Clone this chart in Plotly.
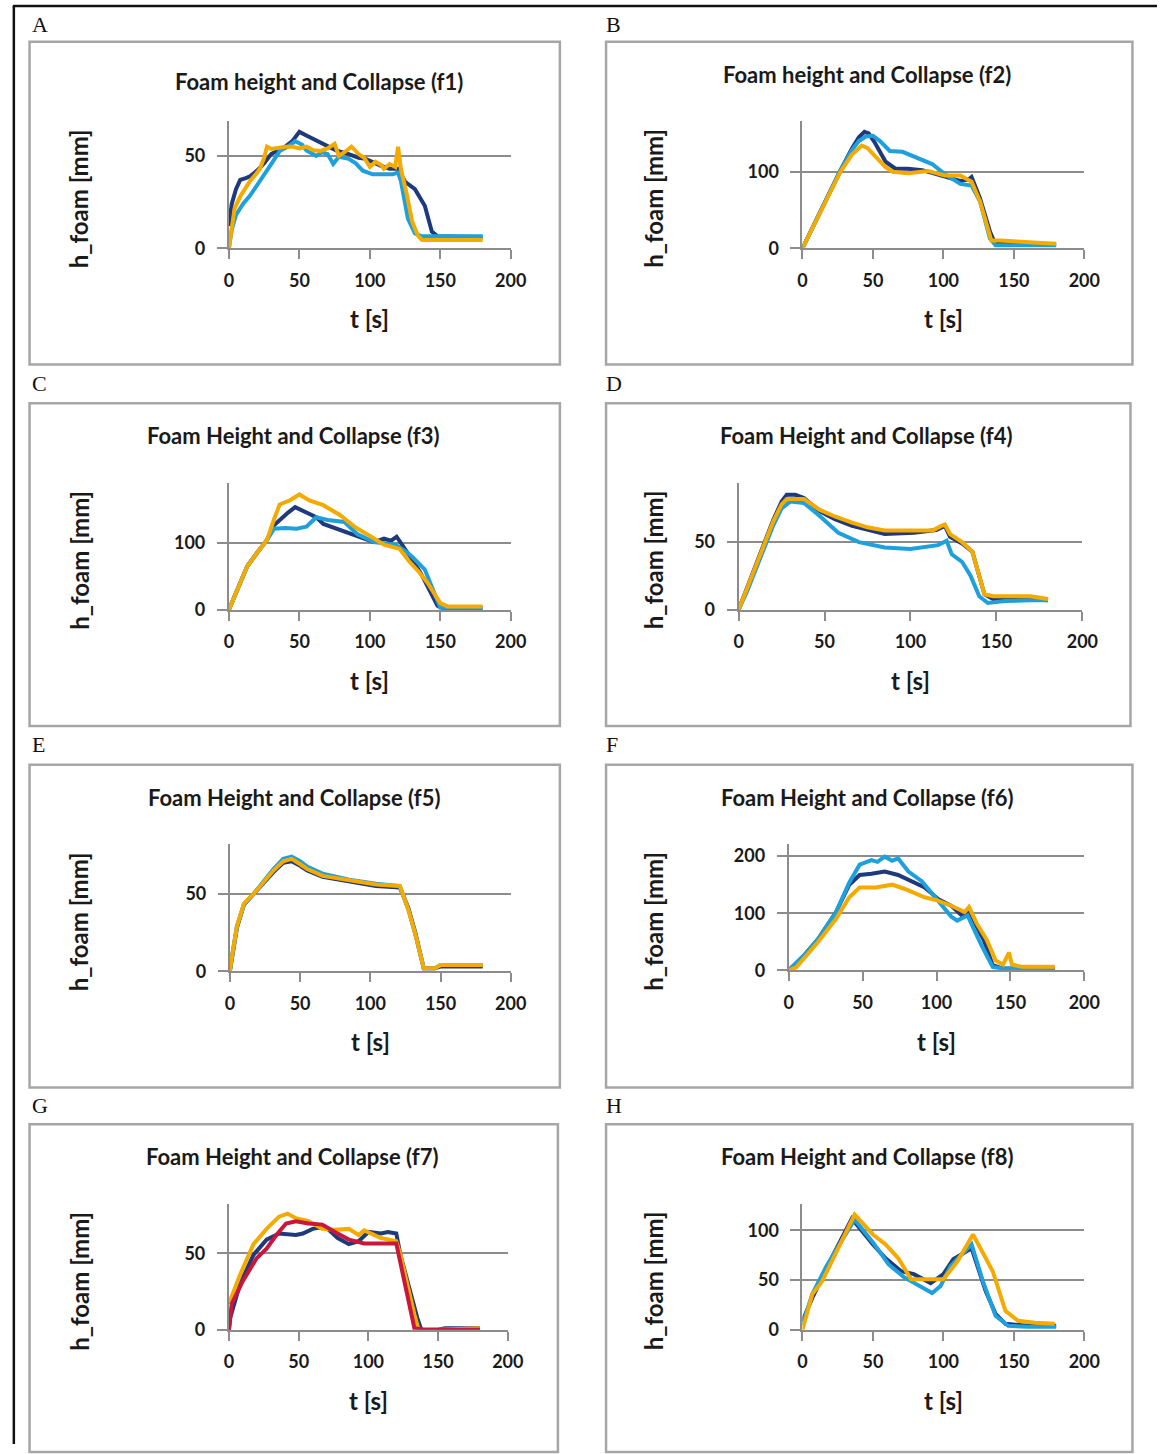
import plotly.graph_objects as go

W, H = 1173, 1454

# ---------------- data (t in s, h_foam in mm) ----------------
titles = ["Foam height and Collapse (f1)", "Foam height and Collapse (f2)",
          "Foam Height and Collapse (f3)", "Foam Height and Collapse (f4)",
          "Foam Height and Collapse (f5)", "Foam Height and Collapse (f6)",
          "Foam Height and Collapse (f7)", "Foam Height and Collapse (f8)"]
letters = ["A", "B", "C", "D", "E", "F", "G", "H"]
x_ticks = [0, 50, 100, 150, 200]

# f1
A_navy_t = [0, 2, 5, 8, 12, 15, 20, 25, 30, 35, 40, 45, 50, 55, 60, 66, 72, 76, 85, 92, 97, 103, 108, 114, 120, 125, 132, 139, 144, 148, 160, 170, 180]
A_navy_h = [12, 24, 32, 37, 38, 39, 42, 46, 51, 53, 55, 58, 63, 61, 59, 56.5, 54, 53, 51, 49, 48.4, 46, 44.6, 43, 43, 36, 32, 23, 9, 6.5, 6.5, 6, 6]
A_cyan_t = [0, 2, 5, 10, 15, 20, 23, 27, 30, 36, 42, 47, 52, 55, 62, 66, 70, 74, 78, 85, 90, 95, 102, 110, 116, 120, 122, 127, 132, 137, 150, 165, 180]
A_cyan_h = [0, 10, 18, 24, 28.5, 34, 37.6, 42, 45.6, 52.6, 55, 58, 56, 53, 50, 52, 51, 45.6, 49.5, 48.4, 46, 42, 40, 40, 40, 41, 36.5, 16, 8, 6.5, 6.5, 6.5, 6.5]
A_orng_t = [0, 2, 4, 8, 12, 15, 19, 22, 25, 27, 30, 35, 40, 45, 50, 55, 60, 65, 70, 75, 78, 82, 87, 92, 96, 100, 104, 108, 110, 114, 118, 120, 122, 126, 130, 134, 137, 150, 165, 180]
A_orng_h = [0, 12, 21.5, 28, 33, 36.5, 40, 43, 49, 55, 53.8, 54.5, 55, 55, 54, 55, 53, 52.7, 54, 56.5, 50, 52, 55, 51, 49, 44, 46.8, 45, 43, 45.6, 44, 55, 43, 30, 14.5, 7, 4.5, 4.5, 4.5, 4.5]

# f2
B_navy_t = [0, 10, 20, 26.5, 35, 40, 44, 47, 51, 55, 59, 66, 75, 85, 98, 112, 118, 120, 126, 133, 136, 145, 160, 180]
B_navy_h = [0, 38, 76, 100, 130, 145, 152, 150, 139, 125, 113, 104, 104, 102, 95, 88, 90, 93, 65, 22, 9, 6, 5, 5]
B_cyan_t = [0, 10, 20, 26.5, 35, 40, 45, 50, 55, 62, 71, 80, 92, 101, 112, 120, 126, 133, 137, 145, 160, 180]
B_cyan_h = [0, 38, 76, 100, 128, 140, 146, 147, 140, 127, 126, 119, 110, 97, 84, 82, 61, 13, 4, 4, 4, 4]
B_orng_t = [0, 10, 20, 27, 35, 42, 46, 50, 55, 59, 64, 75, 89, 101, 112, 120, 126, 134, 140, 150, 165, 180]
B_orng_h = [0, 36, 72, 100, 122, 134, 131, 123, 114, 106, 100, 98, 101, 95, 95, 87, 61, 10, 10, 9, 8, 6]

# f3
C_navy_t = [0, 5, 13, 20, 27, 32, 36, 42, 47, 52, 57, 62, 67, 79, 90, 103, 110, 115, 119, 124, 130, 136, 142, 148, 152, 165, 180]
C_navy_h = [0, 25, 65, 85, 104, 126, 134, 145, 153, 148, 143, 138, 128, 119, 112, 101, 106, 103, 109, 94, 75, 55, 30, 6, 2, 2, 2]
C_cyan_t = [0, 5, 13, 20, 27, 32, 40, 48, 55, 62, 70, 82, 91, 103, 118, 125, 130, 139, 145, 150, 165, 180]
C_cyan_h = [0, 25, 65, 85, 104, 121, 122, 121, 124, 138, 134, 131, 113, 101, 97, 88, 79, 60, 30, 3, 3, 3]
C_orng_t = [0, 5, 13, 20, 27, 32, 36, 43, 50, 57, 67, 79, 89, 101, 110, 121, 128, 135, 141, 150, 155, 165, 180]
C_orng_h = [0, 25, 65, 85, 104, 135, 157, 163, 172, 163, 156, 141, 124, 109, 97, 91, 72, 56, 40, 10, 5, 5, 5]

# f4
D_navy_t = [0, 5, 10, 15, 20, 25, 28, 33, 38, 47, 56, 66, 75, 85, 102, 115, 120, 123, 130, 136, 140, 143, 148, 160, 170, 180]
D_navy_h = [0, 16, 33, 49, 66, 80, 85, 85, 82.6, 73, 67, 62, 59, 56, 57, 59, 62, 54, 49, 43, 25, 11.5, 8, 8, 8, 7]
D_cyan_t = [0, 5, 10, 15, 20, 25, 30, 38, 47, 58, 70, 85, 100, 116, 121, 124, 130, 135, 140, 145, 155, 170, 180]
D_cyan_h = [0, 14, 30, 46, 62, 75, 80, 79, 69.6, 57, 50, 46, 45, 47.8, 51, 41, 35.5, 25, 10, 5, 6.5, 7, 7]
D_orng_t = [0, 5, 10, 15, 20, 25, 28, 33, 38, 47, 56, 66, 75, 85, 102, 113, 118, 120, 123, 130, 136, 140, 143, 148, 160, 170, 180]
D_orng_h = [0, 16, 33, 49, 65, 78, 82, 82, 82, 74, 69, 64.5, 61, 58.7, 58.7, 58.7, 62, 63, 56, 50, 43, 25, 11.5, 10, 10, 10, 8]

# f5
E_t = [0, 1, 5, 10, 17, 24, 31, 38, 44, 50, 55, 66, 85, 104, 121, 127, 132, 138, 146, 150, 165, 180]
E_navy_h = [0, 6, 28, 43, 50, 57, 64, 70, 71, 68, 65, 61, 58, 55, 54, 41, 25, 2, 2, 3, 3, 3]
E_cyan_h = [0, 7, 29, 43, 50, 58, 66, 72.5, 74, 71, 67.5, 63, 59, 56.5, 55, 40, 24, 2, 2, 4, 4, 4]
E_orng_h = [0, 7, 29, 43.6, 50, 57.7, 65, 71, 72.5, 69, 66, 61.5, 58.5, 56, 55, 40, 24, 2, 2, 4, 4, 4]

# f6
F_navy_t = [0, 10, 20, 28, 32, 41, 48, 56, 65, 74, 83, 92, 101, 110, 118, 122, 132, 138, 145, 160, 180]
F_navy_h = [0, 25, 55, 87, 102, 150, 167, 169, 173, 167, 156, 145, 125, 113, 94, 102, 53, 9, 3, 3, 3]
F_cyan_t = [0, 10, 20, 28, 32, 41, 48, 56, 60, 65, 70, 74, 81, 90, 99, 110, 114, 121, 130, 138, 145, 160, 180]
F_cyan_h = [0, 25, 55, 87, 102, 154, 185, 193, 190, 199, 192, 196, 173, 156, 128, 94, 87, 96, 46, 6, 3, 3, 3]
F_orng_t = [0, 5, 10, 20, 32, 41, 48, 59, 70, 79, 92, 101, 110, 119, 122, 127, 134, 140, 145, 149, 151, 158, 170, 180]
F_orng_h = [0, 5, 20, 50, 90, 128, 145, 145, 150, 142, 128, 122, 113, 102, 111, 83, 53, 17, 10, 31, 10, 6, 6, 6]

# f7
G_navy_t = [0, 1, 8, 17.6, 27, 36, 48, 53, 60, 69, 78, 86, 93, 100, 109, 114, 120, 123, 135, 138, 150, 155, 180]
G_navy_h = [0, 8, 30, 49, 59, 63, 62, 63, 66, 67.5, 60, 56, 58, 64, 63, 64, 63, 49, 8, 0, 0, 1, 1]
G_orng_t = [0, 8, 17.6, 27, 36, 42, 48, 57, 67, 76, 86, 93, 97, 109, 120, 123, 133, 136, 150, 180]
G_orng_h = [17, 36, 56, 66, 74, 76, 73, 71, 66, 65.5, 66, 62, 65, 60, 58, 49, 10, 0, 0, 1]
G_red_t = [0, 2, 10, 20, 27, 34, 41, 48, 57, 67, 76, 86, 97, 109, 120, 133, 140, 180]
G_red_h = [0, 17, 32, 47, 53, 62, 69.5, 71, 69.5, 68.8, 64, 59, 56.5, 56.5, 56.5, 1, 0, 0]

# f8
H_navy_t = [0, 7, 17, 35, 50, 59, 70, 79, 91, 100, 107, 120, 130, 137, 144, 160, 180]
H_navy_h = [9, 32, 62, 112, 86, 72, 59, 56, 47, 56, 71, 82, 39, 16, 6, 4, 4]
H_cyan_t = [0, 7, 17, 37, 50, 61, 72, 84, 92, 98, 105, 120, 128, 137, 146, 160, 180]
H_cyan_h = [5, 36, 64, 111, 88, 66, 53, 44, 37, 44, 64, 86, 49, 14, 4, 3, 3]
H_orng_t = [0, 7, 14, 24, 37, 50, 59, 68, 77, 89, 100, 110, 121, 135, 144, 153, 165, 179]
H_orng_h = [0, 36, 49, 79, 116, 96, 86, 72, 51, 51, 51, 69, 96, 59, 19, 9, 7, 6]

NAVY, CYAN, ORNG, RED = "#1f3a7a", "#1ea0dc", "#f5aa00", "#c8163c"

series = [
    [(A_navy_t, A_navy_h, NAVY), (A_cyan_t, A_cyan_h, CYAN), (A_orng_t, A_orng_h, ORNG)],
    [(B_navy_t, B_navy_h, NAVY), (B_cyan_t, B_cyan_h, CYAN), (B_orng_t, B_orng_h, ORNG)],
    [(C_navy_t, C_navy_h, NAVY), (C_cyan_t, C_cyan_h, CYAN), (C_orng_t, C_orng_h, ORNG)],
    [(D_navy_t, D_navy_h, NAVY), (D_cyan_t, D_cyan_h, CYAN), (D_orng_t, D_orng_h, ORNG)],
    [(E_t, E_navy_h, NAVY), (E_t, E_cyan_h, CYAN), (E_t, E_orng_h, ORNG)],
    [(F_navy_t, F_navy_h, NAVY), (F_cyan_t, F_cyan_h, CYAN), (F_orng_t, F_orng_h, ORNG)],
    [(G_navy_t, G_navy_h, NAVY), (G_orng_t, G_orng_h, ORNG), (G_red_t, G_red_h, RED)],
    [(H_navy_t, H_navy_h, NAVY), (H_cyan_t, H_cyan_h, CYAN), (H_orng_t, H_orng_h, ORNG)],
]

# ---------------- layout geometry (pixels) ----------------
# plot area: x0 px, x200 px, y(0) px, y(top) px, y max value, y dtick
geom = [
    (228, 515, 250, 122, 68.8, 50),
    (812, 1099, 250, 122, 166, 100),
    (228, 515, 614, 486, 189.6, 100),
    (747, 1097, 614, 486, 94, 50),
    (229, 515, 978, 850, 82, 50),
    (798, 1099, 977, 850, 221, 100),
    (228, 512, 1339, 1212, 82.5, 50),
    (812, 1099, 1339, 1212, 127, 50),
]
frames = [(25, 42, 565, 367), (612, 42, 1148, 367), (25, 406, 565, 731), (612, 406, 1146, 731),
          (25, 770, 565, 1095), (612, 770, 1148, 1095), (25, 1132, 563, 1462), (612, 1132, 1148, 1462)]
title_pos = [(320, 82), (878, 75), (293, 439), (877, 439), (294, 803), (878, 803), (292, 1165), (878, 1165)]
ytitle_pos = [(75, 200), (660, 200), (75, 564), (660, 564), (75, 928), (660, 928), (75, 1290), (660, 1290)]
xtitle_y = [321, 321, 685, 685, 1049, 1049, 1410, 1410]
letter_pos = [(25, 25), (610, 25), (25, 386), (610, 386), (25, 750), (610, 750), (25, 1113), (610, 1113)]

px = lambda x: x / W
py = lambda y: 1 - y / H

fig = go.Figure()
shapes, annotations = [], []
FONT = "Lato"
TXT = "#1a1a1a"
GRID = "#8c8c8c"
TICKFONT = dict(family=FONT, size=18, color=TXT, weight="bold")

for i in range(8):
    x0, x1, y0, y1, ymax, dt = geom[i]
    sfx = "" if i == 0 else str(i + 1)
    for (t, h, c) in series[i]:
        fig.add_trace(go.Scatter(x=t, y=h, mode="lines", line=dict(color=c, width=4),
                                 xaxis="x" + sfx, yaxis="y" + sfx, showlegend=False,
                                 hoverinfo="skip"))
    fig.layout["xaxis" + sfx] = dict(
        domain=[px(x0), px(x1)], range=[0, 200], tickvals=x_ticks, anchor="y" + sfx,
        showgrid=False, zeroline=False, showline=True, linecolor=GRID, linewidth=2,
        ticks="outside", ticklen=9, tickwidth=2, tickcolor=GRID,
        tickfont=TICKFONT, ticklabelstandoff=6, fixedrange=True)
    fig.layout["yaxis" + sfx] = dict(
        domain=[py(y0), py(y1)], range=[0, ymax], dtick=dt, tick0=0, anchor="x" + sfx,
        showgrid=True, gridcolor=GRID, gridwidth=1.5, zeroline=False,
        showline=True, linecolor=GRID, linewidth=2,
        ticks="outside", ticklen=10, tickwidth=1.5, tickcolor=GRID,
        tickfont=TICKFONT, ticklabelstandoff=8, fixedrange=True)

    fx0, fy0, fx1, fy1 = frames[i]
    shapes.append(dict(type="rect", xref="paper", yref="paper", x0=px(fx0), x1=px(fx1),
                       y0=py(fy0), y1=py(fy1), line=dict(color="#a6a6a6", width=2.5)))
    tx, ty = title_pos[i]
    annotations.append(dict(text=titles[i], x=px(tx), y=py(ty), xref="paper", yref="paper",
                            showarrow=False, font=dict(family=FONT, size=22, color=TXT, weight="bold"),
                            xanchor="center", yanchor="middle"))
    ax, ay = ytitle_pos[i]
    annotations.append(dict(text="h_foam [mm]", x=px(ax), y=py(ay), xref="paper", yref="paper",
                            showarrow=False, textangle=-90,
                            font=dict(family=FONT, size=24, color=TXT, weight="bold"),
                            xanchor="center", yanchor="middle"))
    annotations.append(dict(text="t [s]", x=px((x0 + x1) / 2), y=py(xtitle_y[i]), xref="paper",
                            yref="paper", showarrow=False,
                            font=dict(family=FONT, size=24, color=TXT, weight="bold"),
                            xanchor="center", yanchor="middle"))
    lx, ly = letter_pos[i]
    annotations.append(dict(text=letters[i], x=px(lx), y=py(ly), xref="paper", yref="paper",
                            showarrow=False, font=dict(family="Liberation Serif", size=22, color="#111"),
                            xanchor="left", yanchor="middle"))

# outer page frame lines
shapes.append(dict(type="line", xref="paper", yref="paper", x0=px(8), x1=1, y0=py(6), y1=py(6),
                   line=dict(color="#111", width=2.5)))
shapes.append(dict(type="line", xref="paper", yref="paper", x0=px(9), x1=px(9), y0=py(6), y1=0,
                   line=dict(color="#111", width=2.5)))

fig.update_layout(width=W, height=H, margin=dict(l=0, r=0, t=0, b=0),
                  paper_bgcolor="white", plot_bgcolor="white",
                  shapes=shapes, annotations=annotations)

fig.write_html("out.html")
